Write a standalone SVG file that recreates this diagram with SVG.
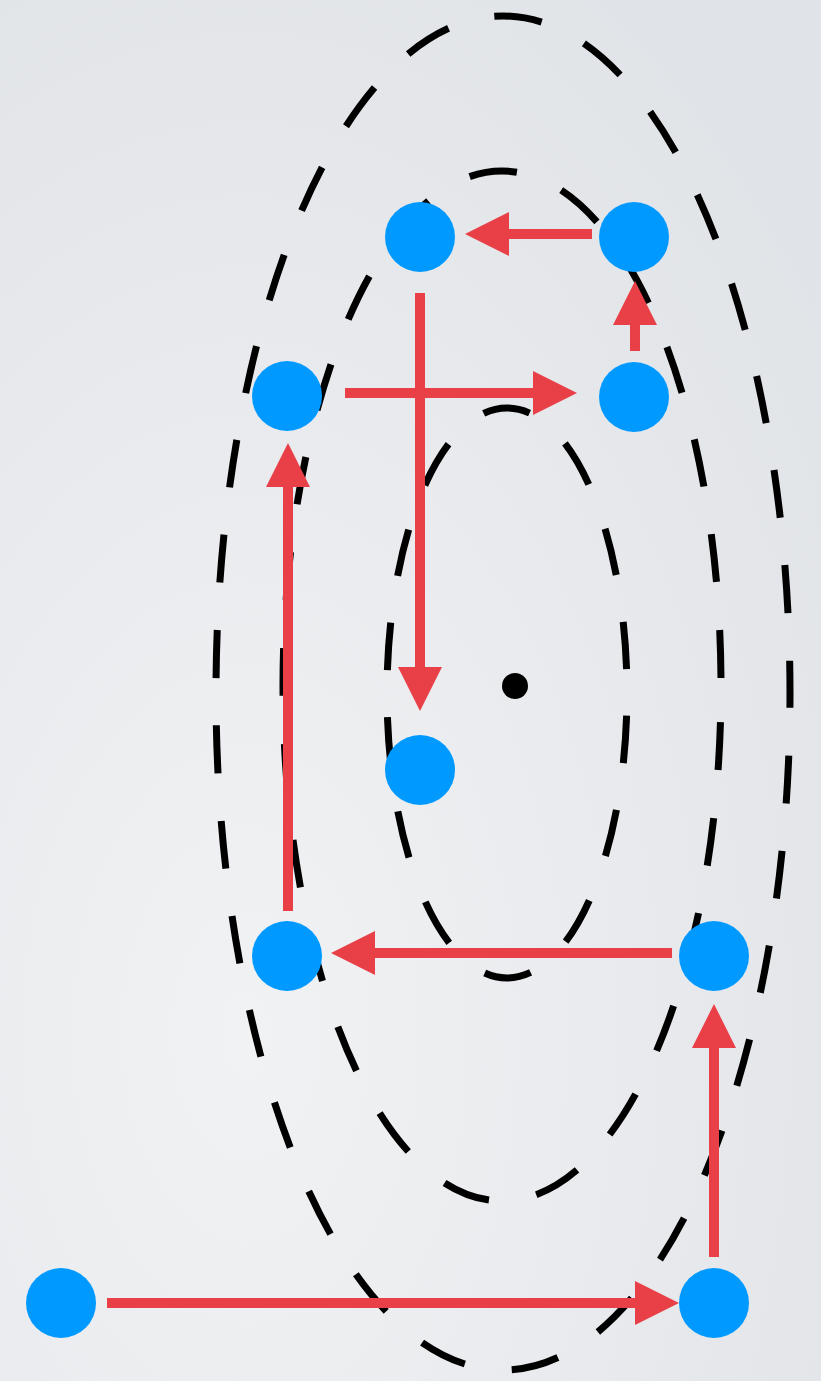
<svg xmlns="http://www.w3.org/2000/svg" width="821" height="1381" viewBox="0 0 821 1381">
<defs>
<radialGradient id="bg" cx="0.3" cy="0.75" r="0.9">
<stop offset="0" stop-color="#F1F2F4"/>
<stop offset="1" stop-color="#E0E3E7"/>
</radialGradient>
<marker id="ah" markerUnits="userSpaceOnUse" markerWidth="46" markerHeight="46" refX="1" refY="22" orient="auto">
<path d="M0,0 L44,22 L0,44 z" fill="#E94048"/>
</marker>
<style>
.orbit{fill:none;stroke:#000;stroke-width:7}
.node{fill:#0099FF}
.edge{stroke:#E94048;stroke-width:10;fill:none;marker-end:url(#ah)}
</style>
</defs>
<rect width="821" height="1381" fill="url(#bg)"/>
<g id="orbits">
<ellipse class="orbit" cx="503" cy="693" rx="287" ry="677" stroke-dasharray="48 47.57" stroke-dashoffset="33"/>
<ellipse class="orbit" cx="502" cy="686" rx="219" ry="515" stroke-dasharray="48 48.17" stroke-dashoffset="60"/>
<ellipse class="orbit" cx="507" cy="693" rx="120" ry="285" stroke-dasharray="47.5 47.2" stroke-dashoffset="72"/>
</g>
<circle id="center" cx="515" cy="686" r="13" fill="#000"/>
<g id="connectors">
<line class="edge" x1="592" y1="234" x2="508" y2="234"/>
<line class="edge" x1="635" y1="351" x2="635" y2="324"/>
<line class="edge" x1="345" y1="393" x2="534" y2="393"/>
<line class="edge" x1="420" y1="293" x2="420" y2="668"/>
<line class="edge" x1="672" y1="953" x2="374" y2="953"/>
<line class="edge" x1="288" y1="911" x2="288" y2="486"/>
<line class="edge" x1="107" y1="1303" x2="636" y2="1303"/>
<line class="edge" x1="714" y1="1257" x2="714" y2="1047"/>
</g>
<g id="nodeA"><circle class="node" cx="420" cy="237" r="35"/></g>
<g id="nodeB"><circle class="node" cx="634" cy="237" r="35"/></g>
<g id="nodeC"><circle class="node" cx="287" cy="396" r="35"/></g>
<g id="nodeD"><circle class="node" cx="634" cy="397" r="35"/></g>
<g id="nodeE"><circle class="node" cx="420" cy="770" r="35"/></g>
<g id="nodeF"><circle class="node" cx="287" cy="956" r="35"/></g>
<g id="nodeG"><circle class="node" cx="714" cy="956" r="35"/></g>
<g id="nodeH"><circle class="node" cx="61" cy="1303" r="35"/></g>
<g id="nodeI"><circle class="node" cx="714" cy="1303" r="35"/></g>
</svg>
